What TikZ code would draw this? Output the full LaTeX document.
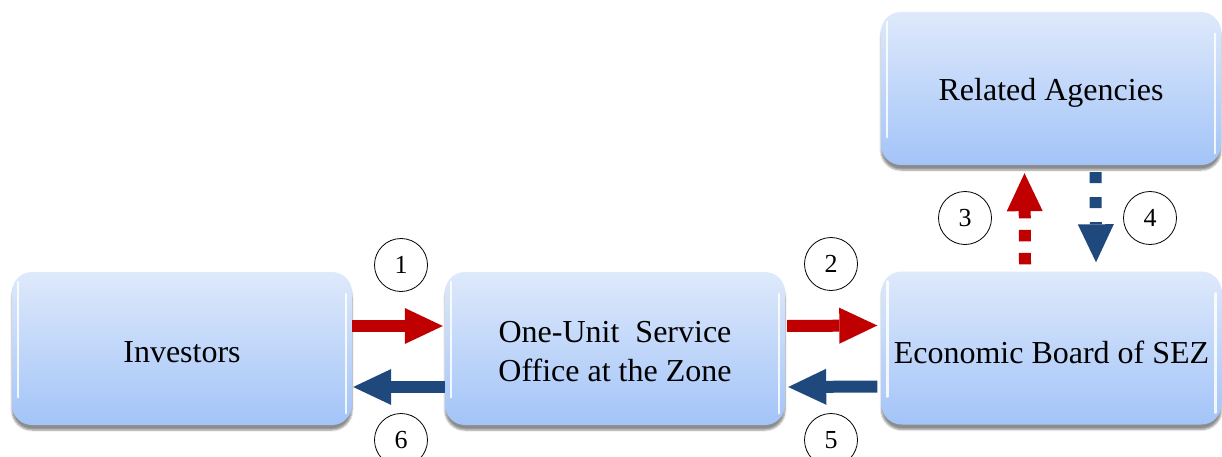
\documentclass[tikz,border=0pt]{standalone}
\usepackage{fontspec}
\setmainfont{Liberation Serif}
\usetikzlibrary{arrows.meta,shadows.blur}
\definecolor{boxtop}{RGB}{222,233,251}
\definecolor{boxbot}{RGB}{163,196,248}
\definecolor{fwdred}{RGB}{192,0,0}
\definecolor{backblue}{RGB}{31,73,125}
\tikzset{
  stagebox/.style={rectangle, rounded corners=20pt, minimum width=340pt,
    minimum height=153pt, inner sep=0pt, top color=boxtop, bottom color=boxbot,
    blur shadow={shadow xshift=0pt, shadow yshift=-5pt, shadow blur steps=6, shadow opacity=45}},
  boxtext/.style={font=\fontsize{32}{39}\selectfont, align=center, inner sep=0pt},
  stepnum/.style={circle, draw, line width=0.8pt, minimum size=53pt, inner sep=0pt,
    font=\fontsize{26}{26}\selectfont},
  flow/.style={line width=12pt, -{Triangle[length=38pt,width=36pt,line width=0pt]}},
  gloss/.style={draw=white, line width=2.5pt, opacity=0.85, line cap=round}
}
\newcommand\boxgloss[1]{%
  \draw[gloss] ([xshift=6pt,yshift=-10pt]#1.north west) -- ([xshift=6pt,yshift=28pt]#1.south west);
  \draw[gloss] ([xshift=-6pt,yshift=-22pt]#1.north east) -- ([xshift=-6pt,yshift=12pt]#1.south east);
}
\begin{document}
\begin{tikzpicture}[x=1pt,y=-1pt]
\useasboundingbox (0,0) rectangle (1222,457);

% the four offices
\node[stagebox, label={[boxtext, yshift=-4pt]center:Investors}] (inv) at (182,348.5) {};
\node[stagebox, label={[boxtext, yshift=-3pt]center:One-Unit\ \ Service\\Office at the Zone}] (one) at (615,348.5) {};
\node[stagebox, label={[boxtext, yshift=-4pt]center:Economic Board of SEZ}] (eco) at (1051.5,348) {};
\node[stagebox, label={[boxtext, yshift=-4pt]center:Related Agencies}] (rel) at (1051,88.5) {};
\foreach \b in {inv,one,eco,rel} {\boxgloss{\b}}

% horizontal flows
\draw[flow, fwdred] ([yshift=22.5pt]inv.east) -- ([xshift=-2pt,yshift=22.5pt]one.west);
\draw[flow, backblue] ([yshift=-38.5pt]one.west) -- ([xshift=1pt,yshift=-38.5pt]inv.east);
\draw[flow, fwdred] ([xshift=2pt,yshift=22.5pt]one.east) -- ([xshift=-4pt,yshift=22.5pt]eco.west);
\draw[flow, backblue] ([xshift=-4pt,yshift=-38.5pt]eco.west) -- ([xshift=3pt,yshift=-38.5pt]one.east);

% vertical flows
\draw[flow, fwdred, dash pattern=on 11.5pt off 11.5pt]
  ([xshift=-26.5pt,yshift=7pt]eco.north) -- ([xshift=-26.5pt,yshift=-8pt]rel.south);
\draw[flow, backblue, dash pattern=on 11pt off 14pt]
  ([xshift=44.5pt,yshift=-7pt]rel.south) -- ([xshift=44.5pt,yshift=9pt]eco.north);

% step numbers
\node[stepnum] (n1) at (401,265) {1};
\node[stepnum] (n2) at (831,264) {2};
\node[stepnum] (n3) at (965,218) {3};
\node[stepnum] (n4) at (1150,218) {4};
\node[stepnum] (n5) at (831,440) {5};
\node[stepnum] (n6) at (401,440) {6};
\end{tikzpicture}
\end{document}
